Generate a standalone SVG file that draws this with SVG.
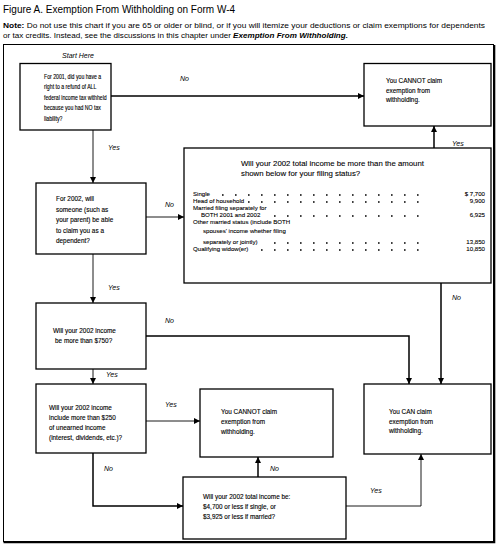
<svg xmlns="http://www.w3.org/2000/svg" width="500" height="548" viewBox="0 0 500 548">
<style>
text{font-family:"Liberation Sans",Arial,sans-serif;fill:#000}
.t{font-size:10px}
.n{font-size:7px}
.b{font-size:6.4px;stroke:#000;stroke-width:0.12}
.r{font-size:6.1px;stroke:#000;stroke-width:0.1}
.h{font-size:7.8px;stroke:#000;stroke-width:0.1}
.l{font-size:7px;font-style:italic}
.box{fill:#fff;stroke:#000;stroke-width:1.3}
.thk{fill:none;stroke:#000;stroke-width:1.5}
.thn{fill:none;stroke:#000;stroke-width:0.9}
.dots{stroke:#000;stroke-width:1.6;stroke-dasharray:1.6 11.4}
</style>
<defs>
<marker id="ah" viewBox="0 0 6 6" refX="6" refY="3" markerWidth="6" markerHeight="6" markerUnits="userSpaceOnUse" orient="auto">
<path d="M0,0 L6,3 L0,6 z" fill="#000"/>
</marker>
</defs>
<text class="t" x="3" y="13">Figure A. Exemption From Withholding on Form W-4</text>
<text class="n" x="3" y="28" textLength="482" lengthAdjust="spacingAndGlyphs"><tspan font-weight="bold">Note:</tspan> Do not use this chart if you are 65 or older or blind, or if you will itemize your deductions or claim exemptions for dependents</text>
<text class="n" x="3" y="38" textLength="345" lengthAdjust="spacingAndGlyphs">or tax credits. Instead, see the discussions in this chapter under <tspan font-weight="bold" font-style="italic">Exemption From Withholding.</tspan></text>
<rect x="3.5" y="44.5" width="490" height="497" fill="none" stroke="#000" stroke-width="1"/>
<path d="M494.5,45 V542.5 H3.5" fill="none" stroke="#000" stroke-width="1.6"/>
<text class="l" x="78" y="58" text-anchor="middle">Start Here</text>

<g id="connectors">
<line class="thk" x1="111" y1="96" x2="364" y2="96" marker-end="url(#ah)"/>
<line class="thk" x1="434" y1="148" x2="434" y2="126" marker-end="url(#ah)"/>
<line class="thn" x1="93" y1="130" x2="93" y2="183" marker-end="url(#ah)"/>
<line class="thn" x1="146" y1="217" x2="184" y2="217" marker-end="url(#ah)"/>
<line class="thn" x1="93" y1="254" x2="93" y2="303" marker-end="url(#ah)"/>
<path class="thk" d="M146,336 H409 V384" marker-end="url(#ah)"/>
<line class="thk" x1="441" y1="283" x2="441" y2="384" marker-end="url(#ah)"/>
<line class="thn" x1="93" y1="369" x2="93" y2="384" marker-end="url(#ah)"/>
<line class="thn" x1="146" y1="421" x2="200" y2="421" marker-end="url(#ah)"/>
<path class="thk" d="M93,453 V506 H183" marker-end="url(#ah)"/>
<line class="thk" x1="258" y1="477" x2="258" y2="457" marker-end="url(#ah)"/>
<path class="thn" d="M346,506 H421 V454" marker-end="url(#ah)"/>
<text class="l" x="180" y="81">No</text>
<text class="l" x="452" y="146">Yes</text>
<text class="l" x="108" y="150">Yes</text>
<text class="l" x="165" y="207">No</text>
<text class="l" x="108" y="290">Yes</text>
<text class="l" x="165" y="323">No</text>
<text class="l" x="452" y="300">No</text>
<text class="l" x="106" y="377">Yes</text>
<text class="l" x="165" y="407">Yes</text>
<text class="l" x="104" y="471">No</text>
<text class="l" x="270" y="471">No</text>
<text class="l" x="370" y="493">Yes</text>
</g>

<g id="q1">
<rect class="box" x="20" y="63.5" width="91" height="66.5"/>
<g transform="translate(44,0) scale(0.81,1)">
<text class="b" x="0" y="79">For 2001, did you have a</text>
<text class="b" x="0" y="89.5">right to a refund of ALL</text>
<text class="b" x="0" y="100">federal income tax withheld</text>
<text class="b" x="0" y="110.5">because you had NO tax</text>
<text class="b" x="0" y="121">liability?</text>
</g>
</g>

<g id="cannot1">
<rect class="box" x="364" y="63.5" width="127" height="62.5"/>
<text class="b" x="386" y="83">You CANNOT claim</text>
<text class="b" x="386" y="92.5">exemption from</text>
<text class="b" x="386" y="102">withholding.</text>
</g>

<g id="income">
<rect class="box" x="184" y="148" width="307" height="135"/>
<text class="h" x="241" y="166">Will your 2002 total income be more than the amount</text>
<text class="h" x="241" y="176">shown below for your filing status?</text>
<text class="r" x="193" y="196">Single</text>
<text class="r" x="193" y="203">Head of household</text>
<text class="r" x="193" y="210">Married filing separately for</text>
<text class="r" x="201" y="217">BOTH 2001 and 2002</text>
<text class="r" x="193" y="224">Other married status (include BOTH</text>
<text class="r" x="203" y="233">spouses' income whether filing</text>
<text class="r" x="203" y="244">separately or jointly)</text>
<text class="r" x="193" y="251">Qualifying widow(er)</text>
<text class="r" x="485" y="196" text-anchor="end">$ 7,700</text>
<text class="r" x="485" y="203" text-anchor="end">9,900</text>
<text class="r" x="485" y="217" text-anchor="end">6,925</text>
<text class="r" x="485" y="244" text-anchor="end">13,850</text>
<text class="r" x="485" y="251" text-anchor="end">10,850</text>
<line class="dots" x1="222" y1="195" x2="422" y2="195"/>
<line class="dots" x1="248" y1="202" x2="422" y2="202"/>
<line class="dots" x1="274" y1="216" x2="422" y2="216"/>
<line class="dots" x1="274" y1="243" x2="422" y2="243"/>
<line class="dots" x1="261" y1="250" x2="422" y2="250"/>
</g>

<g id="q2">
<rect class="box" x="36" y="183" width="110" height="71"/>
<text class="b" x="56" y="201">For 2002, will</text>
<text class="b" x="56" y="211.5">someone (such as</text>
<text class="b" x="56" y="222">your parent) be able</text>
<text class="b" x="56" y="232.5">to claim you as a</text>
<text class="b" x="56" y="243">dependent?</text>
</g>

<g id="q3">
<rect class="box" x="36" y="303" width="110" height="66"/>
<text class="b" x="53" y="333">Will your 2002 income</text>
<text class="b" x="55" y="343">be more than $750?</text>
</g>

<g id="q4">
<rect class="box" x="36" y="384" width="110" height="69"/>
<text class="b" x="49" y="410">Will your 2002 income</text>
<text class="b" x="49" y="420">include more than $250</text>
<text class="b" x="49" y="430">of unearned income</text>
<text class="b" x="49" y="440">(interest, dividends, etc.)?</text>
</g>

<g id="cannot2">
<rect class="box" x="200" y="389" width="133" height="68"/>
<text class="b" x="221" y="414">You CANNOT claim</text>
<text class="b" x="221" y="424">exemption from</text>
<text class="b" x="221" y="434">withholding.</text>
</g>

<g id="can">
<rect class="box" x="364" y="384" width="127" height="70"/>
<text class="b" x="389" y="414">You CAN claim</text>
<text class="b" x="389" y="423.5">exemption from</text>
<text class="b" x="389" y="433">withholding.</text>
</g>

<g id="q5">
<rect class="box" x="183" y="477" width="163" height="62"/>
<text class="b" x="203" y="499">Will your 2002 total income be:</text>
<text class="b" x="203" y="509">$4,700 or less if single, or</text>
<text class="b" x="203" y="519">$3,925 or less if married?</text>
</g>
</svg>
